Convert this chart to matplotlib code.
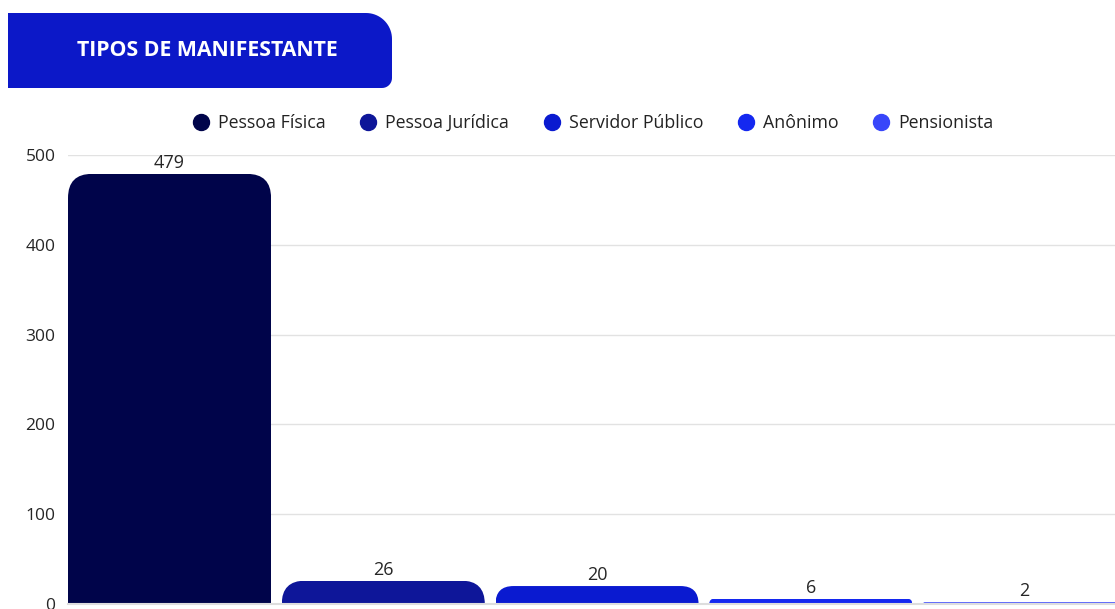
import numpy as np
import matplotlib
matplotlib.use("Agg")
import matplotlib.pyplot as plt
from matplotlib.patches import FancyBboxPatch, Polygon
from matplotlib.lines import Line2D

plt.rcParams['font.family'] = ['Open Sans', 'DejaVu Sans']

# data
categories = ["Pessoa Física", "Pessoa Jurídica", "Servidor Público", "Anônimo", "Pensionista"]
values = [479, 26, 20, 6, 2]
colors = ["#00044A", "#0E1699", "#0A1AD0", "#1428F0", "#3846FA"]
title = "TIPOS DE MANIFESTANTE"

W, H = 1115, 609
fig = plt.figure(figsize=(W / 100, H / 100), dpi=100)

# axes placed in pixel terms; right side runs past the figure edge like the reference
left_px, bottom_px = 68, 5
slot_px = 213.75
xlim = (-0.475, 4.5)
ax_w = (xlim[1] - xlim[0]) * slot_px
ax_h = 449
ax = fig.add_axes([left_px / W, bottom_px / H, ax_w / W, ax_h / H])
ax.set_xlim(*xlim)
ax.set_ylim(0, 500)

x = np.arange(len(categories))
bars = ax.bar(x, values, width=0.95, color=colors, zorder=3)

# round the top corners of every bar (radius in pixels, clamped by bar height)
px_x = slot_px           # pixels per x unit
px_y = ax_h / 500        # pixels per y unit
R = 24
for rect, v in zip(bars, values):
    r_px = min(R, v * px_y)
    rx = r_px / px_x
    ry = r_px / px_y
    clip = FancyBboxPatch((rect.get_x(), -ry), rect.get_width(), v + ry,
                          boxstyle=f"round,pad=0,rounding_size={rx}",
                          mutation_aspect=ry / rx, transform=ax.transData,
                          facecolor="none", edgecolor="none")
    rect.set_clip_path(clip)
    ax.annotate(str(v), (rect.get_x() + rect.get_width() / 2, v),
                xytext=(0, 11), textcoords="offset pixels",
                ha="center", va="center", fontsize=13, color="#262626")

ax.set_yticks([0, 100, 200, 300, 400, 500])
ax.tick_params(axis="y", length=0, pad=9, labelsize=12.5, labelcolor="#262626")
ax.set_xticks([])
ax.grid(axis="y", color="#e2e2e2", linewidth=1, zorder=0)
for s in ax.spines.values():
    s.set_visible(False)
ax.axhline(0, color="#dddddd", linewidth=1.5, zorder=4, clip_on=False)

# legend
handles = [Line2D([], [], marker="o", linestyle="none", markersize=11.5,
                  markerfacecolor=c, markeredgecolor=c) for c in colors]
fig.legend(handles, categories, loc="center", bbox_to_anchor=(593 / W, 1 - 123 / H),
           ncol=5, frameon=False, fontsize=12.8, handlelength=0.9,
           handletextpad=0.5, columnspacing=1.95, labelcolor="#222222")

# title box: square left corners, big top-right radius, small bottom-right radius
x0, x1, y_top, y_bot = 8, 392, H - 13, H - 88
r1, r2 = 26, 10
t1 = np.linspace(np.pi / 2, 0, 20)
t2 = np.linspace(0, -np.pi / 2, 10)
verts = [(x0, y_bot), (x0, y_top)]
verts += list(zip(x1 - r1 + r1 * np.cos(t1), y_top - r1 + r1 * np.sin(t1)))
verts += list(zip(x1 - r2 + r2 * np.cos(t2), y_bot + r2 + r2 * np.sin(t2)))
fig.patches.append(Polygon(verts, closed=True, transform=None,
                           facecolor="#0C18C8", edgecolor="none", figure=fig))
fig.text(77 / W, 1 - 51 / H, title, ha="left", va="center", color="white",
         fontsize=15.3, fontweight="bold")

fig.savefig("out.png", dpi=100)
